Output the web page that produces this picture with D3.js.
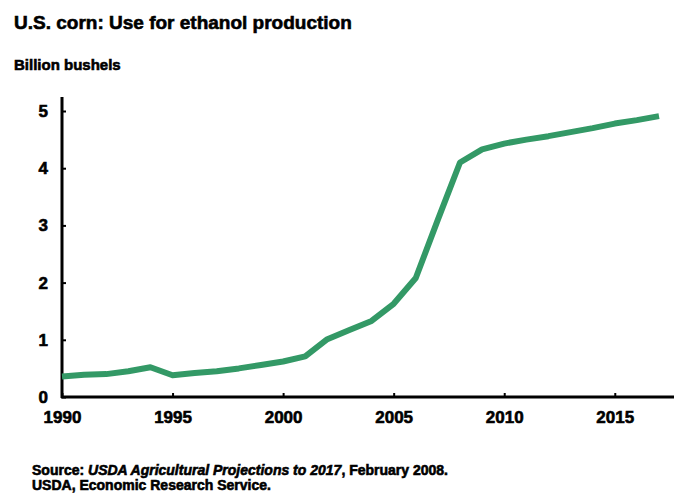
<!DOCTYPE html>
<html><head><meta charset="utf-8">
<script src="https://cdn.jsdelivr.net/npm/d3@7"></script>
<style>body{margin:0;background:#fff}svg{display:block}text{font-family:"Liberation Sans",Arial,sans-serif;font-weight:bold;fill:#000;stroke:#000;stroke-width:0.6px}</style>
</head><body>
<script>
const years = [1990,1991,1992,1993,1994,1995,1996,1997,1998,1999,2000,2001,2002,2003,2004,2005,2006,2007,2008,2009,2010,2011,2012,2013,2014,2015,2016,2017];
const values = [0.36,0.39,0.40,0.45,0.52,0.38,0.42,0.45,0.50,0.56,0.62,0.71,1.01,1.17,1.33,1.63,2.08,3.10,4.10,4.33,4.43,4.50,4.56,4.63,4.70,4.78,4.84,4.91];
const yTicks = [0,1,2,3,4,5];
const xTicks = [1990,1995,2000,2005,2010,2015];
const title = "U.S. corn: Use for ethanol production";
const unitLabel = "Billion bushels";

const W=674,H=498;
const svg=d3.select("body").append("svg").attr("width",W).attr("height",H);
const x=d3.scaleLinear().domain([1990,2017]).range([62,659]);
const y=d3.scaleLinear().domain([0,5]).range([397,111]);

svg.append("text").attr("x",14).attr("y",29).style("font-size","19px").text(title);
svg.append("text").attr("x",14).attr("y",70).style("font-size","15px").text(unitLabel);

// axes
const xa=svg.append("g").attr("transform","translate(0,397)")
  .call(d3.axisBottom(x).tickValues(xTicks).tickFormat(d3.format("d")).tickSize(-4).tickPadding(14));
xa.select(".domain").remove();
xa.append("line").attr("x1",61).attr("x2",W).attr("y1",0).attr("y2",0).attr("stroke","#000").attr("stroke-width",3);
xa.selectAll(".tick line").attr("stroke","#000").attr("stroke-width",2);
xa.selectAll(".tick text").style("font-size","17px").attr("fill","#000");

const ya=svg.append("g").attr("transform","translate(62,0)")
  .call(d3.axisLeft(y).tickValues(yTicks).tickFormat(d3.format("d")).tickSize(-4).tickPadding(14));
ya.select(".domain").remove();
ya.append("line").attr("x1",0).attr("x2",0).attr("y1",97).attr("y2",398).attr("stroke","#000").attr("stroke-width",3);
ya.selectAll(".tick line").attr("stroke","#000").attr("stroke-width",2);
ya.selectAll(".tick text").style("font-size","17px").attr("fill","#000");

svg.append("path").datum(years.map((d,i)=>[d,values[i]]))
  .attr("fill","none").attr("stroke","#339966").attr("stroke-width",6).attr("stroke-linejoin","round")
  .attr("d",d3.line().x(d=>x(d[0])).y(d=>y(d[1])));

const s1=svg.append("text").attr("x",32).attr("y",475).style("font-size","14px");
s1.append("tspan").text("Source: ");
s1.append("tspan").style("font-style","italic").text("USDA Agricultural Projections to 2017");
s1.append("tspan").text(", February 2008.");
svg.append("text").attr("x",32).attr("y",490).style("font-size","14px").text("USDA, Economic Research Service.");
</script>
</body></html>
